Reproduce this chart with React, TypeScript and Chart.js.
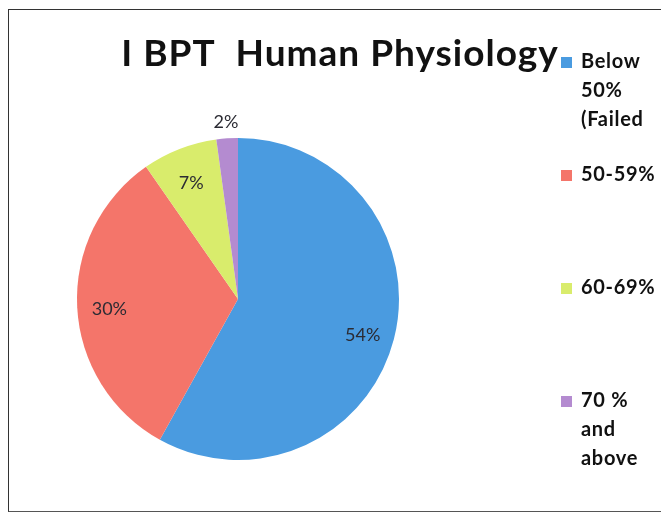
import React, { useEffect, useRef } from "react";
import { Chart, registerables } from "chart.js";

Chart.register(...registerables);

const titleText = "I BPT  Human Physiology";
const categories: string[][] = [
  ["Below", "50%", "(Failed"],
  ["50-59%"],
  ["60-69%"],
  ["70 %", "and", "above"],
];
const values = [54, 30, 7, 2];
const valueLabels = ["54%", "30%", "7%", "2%"];
const colors = ["#4A9BE0", "#F4756A", "#D9EC6C", "#B48BD0"];

const labelPlugin = {
  id: "sliceLabels",
  afterDatasetsDraw(chart: any) {
    const ctx = chart.ctx;
    const meta = chart.getDatasetMeta(0);
    ctx.save();
    ctx.font = "18px Lato";
    ctx.fillStyle = "#2b2b33";
    ctx.textAlign = "center";
    ctx.textBaseline = "middle";
    meta.data.forEach((arc: any, i: number) => {
      const p = arc.getProps(["x", "y", "startAngle", "endAngle", "outerRadius"], true);
      const span = p.endAngle - p.startAngle;
      const mid = (p.startAngle + p.endAngle) / 2;
      const f = span < 0.2 ? 1.1 : 0.8;
      const x = p.x + Math.cos(mid) * p.outerRadius * f;
      const y = p.y + Math.sin(mid) * p.outerRadius * f + (span < 0.2 ? 0 : 4);
      ctx.fillText(valueLabels[i], x, y);
    });
    ctx.restore();
  },
};

const decorPlugin = {
  id: "decor",
  afterDraw(chart: any) {
    const ctx = chart.ctx;
    ctx.save();
    // title
    ctx.font = "bold 37px Lato";
    (ctx as any).letterSpacing = "1px";
    ctx.fillStyle = "#111";
    ctx.textAlign = "center";
    ctx.textBaseline = "alphabetic";
    ctx.fillText(titleText, 340, 66);
    // legend
    const labels: string[][] = chart.data.labels;
    const bg: string[] = chart.data.datasets[0].backgroundColor;
    ctx.font = "bold 20px Lato";
    (ctx as any).letterSpacing = "0.7px";
    ctx.textAlign = "left";
    ctx.textBaseline = "middle";
    labels.forEach((lines, i) => {
      const top = 62 + i * 113;
      ctx.fillStyle = bg[i];
      ctx.fillRect(561, top - 5, 11, 11);
      ctx.fillStyle = "#111";
      lines.forEach((ln, j) => {
        ctx.fillText(ln, 581, top + j * 29);
      });
    });
    ctx.restore();
  },
};

export default function App() {
  const ref = useRef<HTMLCanvasElement>(null);
  useEffect(() => {
    document.body.style.margin = "0";
    const chart = new Chart(ref.current!, {
      type: "pie",
      data: {
        labels: categories as any,
        datasets: [
          {
            data: values,
            backgroundColor: colors,
            borderWidth: 0,
          },
        ],
      },
      options: {
        animation: false,
        responsive: false,
        devicePixelRatio: 1,
        layout: { padding: { left: 77, right: 262, top: 138, bottom: 53 } },
        plugins: {
          legend: { display: false },
          title: { display: false },
          tooltip: { enabled: false },
        },
      },
      plugins: [labelPlugin, decorPlugin],
    });
    return () => chart.destroy();
  }, []);
  return (
    <div style={{ position: "relative", width: 661, height: 513, background: "#fff", overflow: "hidden" }}>
      <div
        style={{
          position: "absolute",
          left: 8,
          top: 9,
          width: 700,
          height: 501,
          borderLeft: "1.5px solid #333",
          borderTop: "1.5px solid #333",
          borderBottom: "1.5px solid #555",
        }}
      />
      <canvas ref={ref} width={661} height={513} style={{ position: "absolute", left: 0, top: 0 }} />
    </div>
  );
}
